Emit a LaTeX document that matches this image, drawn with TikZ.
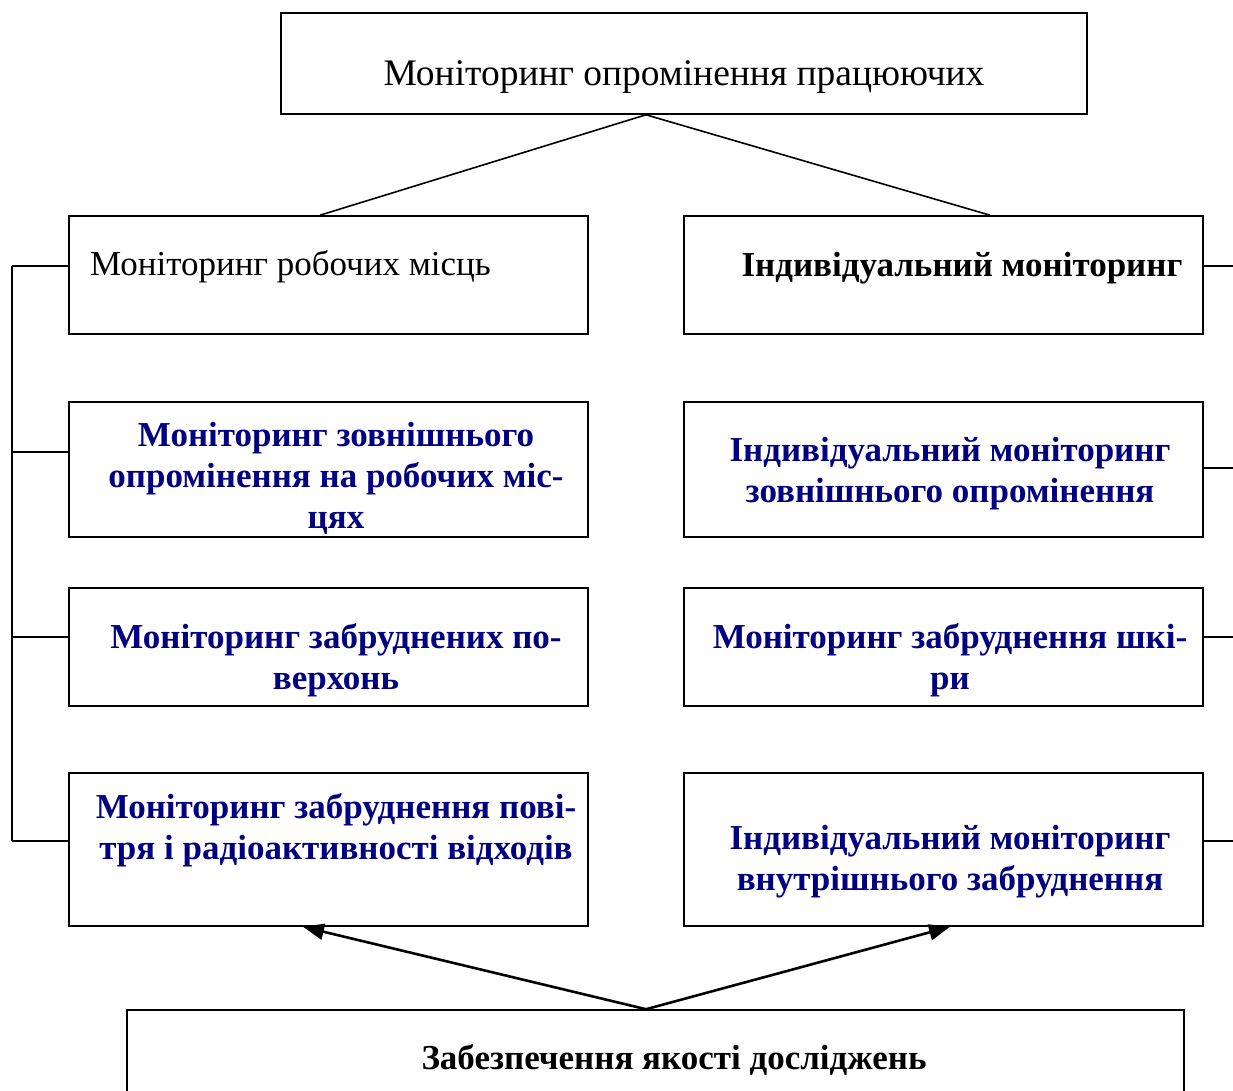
\documentclass[tikz,border=0pt]{standalone}
\usepackage{fontspec}
\setmainfont{Liberation Serif}
\usepackage{xcolor}
\usetikzlibrary{arrows.meta}
\usetikzlibrary{calc}
\definecolor{navytext}{HTML}{000080}
\tikzset{
  box/.style={draw, line width=1.6pt, inner sep=0pt},
  conn/.style={line width=1.6pt},
  arr/.style={line width=2.6pt, -{Triangle[length=21pt, width=16pt]}},
  normtxt/.style={inner sep=0pt, align=center, font=\fontsize{35}{41}\selectfont},
  boldtxt/.style={inner sep=0pt, align=center, font=\fontsize{35}{41}\selectfont\bfseries},
  bluetxt/.style={boldtxt, text=navytext}
}
\begin{document}
\begin{tikzpicture}[x=1pt,y=-1pt]
\useasboundingbox (0,0) rectangle (1233,1090);

% boxes
\node[box, minimum width=806pt, minimum height=101pt] (top) at (684,63.5) {};
\node[box, minimum width=519pt, minimum height=118pt] (l1) at (328.5,275) {};
\node[box, minimum width=519pt, minimum height=135pt] (l2) at (328.5,469.5) {};
\node[box, minimum width=519pt, minimum height=118pt] (l3) at (328.5,647) {};
\node[box, minimum width=519pt, minimum height=153pt] (l4) at (328.5,849.5) {};
\node[box, minimum width=519pt, minimum height=118pt] (r1) at (943.5,275) {};
\node[box, minimum width=519pt, minimum height=135pt] (r2) at (943.5,469.5) {};
\node[box, minimum width=519pt, minimum height=118pt] (r3) at (943.5,647) {};
\node[box, minimum width=519pt, minimum height=153pt] (r4) at (943.5,849.5) {};
\node[box, minimum width=1057pt, minimum height=110pt] (bot) at (655.5,1065) {};

% texts
\node[normtxt, font=\fontsize{37.5}{41}\selectfont] (toptxt) at (684,77) {Моніторинг опромінення працюючих};
\node[normtxt, anchor=west] (l1txt) at (90,267) {Моніторинг робочих місць};
\node[bluetxt] (l2txt) at (336,478) {Моніторинг зовнішнього\\опромінення на робочих міс-\\цях};
\node[bluetxt] (l3txt) at (336,660) {Моніторинг забруднених по-\\верхонь};
\node[bluetxt] (l4txt) at (336,830) {Моніторинг забруднення пові-\\тря і радіоактивності відходів};
\node[boldtxt] (r1txt) at (962,268) {Індивідуальний моніторинг};
\node[bluetxt] (r2txt) at (950,474) {Індивідуальний моніторинг\\зовнішнього опромінення};
\node[bluetxt] (r3txt) at (950,660) {Моніторинг забруднення шкі-\\ри};
\node[bluetxt] (r4txt) at (950,862) {Індивідуальний моніторинг\\внутрішнього забруднення};
\node[boldtxt] (bottxt) at (674,1060) {Забезпечення якості досліджень};

% connectors
\coordinate (topfoot) at ($(top.south)+(-38,0)$);
\draw[conn] ($(l1.north)+(-8.5,0)$) -- (topfoot) -- ($(r1.north)+(46.5,0)$);

\coordinate (botfoot) at ($(bot.north)+(-9.5,0)$);
\draw[arr] (botfoot) -- ($(l4.south)+(-25.5,0)$);
\draw[arr] (botfoot) -- ($(r4.south)+(6.5,0)$);

% left bracket
\coordinate (lb1) at (12,266);
\coordinate (lb4) at (12,841);
\draw[conn] (lb1) -- (lb4);
\draw[conn] (lb1) -- (lb1 -| l1.west);
\draw[conn] (12,452) -- (12,452 -| l2.west);
\draw[conn] (12,637) -- (12,637 -| l3.west);
\draw[conn] (lb4) -- (lb4 -| l4.west);

% right stubs
\foreach \n/\y in {r1/266, r2/468, r3/637, r4/841}
  \draw[conn] (\n.east |- 0,\y) -- (1233,\y);
\end{tikzpicture}
\end{document}
